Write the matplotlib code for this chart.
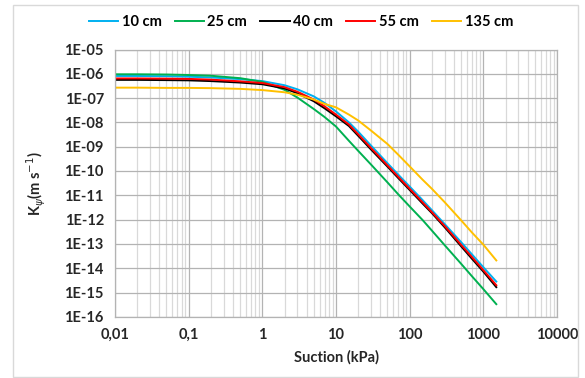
import matplotlib
matplotlib.use("Agg")
import matplotlib.pyplot as plt
import numpy as np
from matplotlib.patches import Rectangle

# suction (kPa), shared by all depths
suction = [0.01, 0.02, 0.05, 0.1, 0.2, 0.5, 1, 2, 3, 5, 7, 10, 15, 20, 30,
           50, 70, 100, 150, 200, 300, 500, 700, 1000, 1500]

# log10 of K (m/s)
logk_10 = [-6.09, -6.09, -6.10, -6.12, -6.15, -6.22, -6.30, -6.47, -6.64, -6.93,
           -7.20, -7.55, -8.00, -8.38, -8.96, -9.68, -10.15, -10.64, -11.20,
           -11.61, -12.19, -12.93, -13.43, -13.96, -14.55]
logk_25 = [-6.02, -6.02, -6.03, -6.05, -6.08, -6.18, -6.33, -6.66, -6.98, -7.45,
           -7.78, -8.17, -8.76, -9.17, -9.74, -10.47, -10.96, -11.46, -12.02,
           -12.45, -13.06, -13.82, -14.33, -14.86, -15.48]
logk_40 = [-6.25, -6.25, -6.26, -6.27, -6.30, -6.36, -6.43, -6.60, -6.80, -7.13,
           -7.42, -7.75, -8.15, -8.55, -9.12, -9.82, -10.29, -10.78, -11.34,
           -11.73, -12.32, -13.10, -13.61, -14.14, -14.78]
logk_55 = [-6.19, -6.19, -6.20, -6.21, -6.24, -6.31, -6.38, -6.55, -6.74, -7.06,
           -7.34, -7.68, -8.09, -8.49, -9.06, -9.77, -10.24, -10.73, -11.29,
           -11.69, -12.27, -13.04, -13.54, -14.08, -14.70]
logk_135 = [-6.57, -6.57, -6.58, -6.58, -6.59, -6.62, -6.67, -6.76, -6.86, -7.06,
            -7.24, -7.38, -7.68, -7.92, -8.34, -8.89, -9.33, -9.81, -10.36,
            -10.73, -11.29, -12.03, -12.53, -13.03, -13.68]

series = [("10 cm", logk_10, "#00B0F0"),
          ("25 cm", logk_25, "#00B050"),
          ("40 cm", logk_40, "#000000"),
          ("55 cm", logk_55, "#FF0000"),
          ("135 cm", logk_135, "#FFC000")]

x_ticks = [0.01, 0.1, 1, 10, 100, 1000, 10000]
x_labels = ["0,01", "0,1", "1", "10", "100", "1000", "10000"]
y_exps = list(range(-16, -4))
y_labels = ["1E-%02d" % (-e) for e in y_exps]

plt.rcParams['font.family'] = ['Lato', 'DejaVu Sans']
fs = 10.5

fig = plt.figure(figsize=(5.85, 3.78), dpi=100)
ax = fig.add_axes([115 / 585, 1 - 316.8 / 378, (557 - 115) / 585, (316.8 - 49.5) / 378])

# outer chart border
fig.patches.append(Rectangle((13 / 585, 1 / 378), 565 / 585, 372 / 378,
                             transform=fig.transFigure, fill=False,
                             edgecolor="#d9d9d9", linewidth=1))

for label, logk, color in series:
    ax.plot(suction, 10 ** np.array(logk), color=color, linewidth=1.4, label=label)

ax.set_xscale("log")
ax.set_yscale("log")
ax.set_xlim(0.01, 10000)
ax.set_ylim(1e-16, 1e-5)

ax.set_xticks(x_ticks)
ax.set_xticklabels(x_labels, fontsize=fs, fontweight="bold", color="#262626")
ax.set_yticks([10.0 ** e for e in y_exps])
ax.set_yticklabels(y_labels, fontsize=fs, fontweight="bold", color="#262626")
ax.yaxis.set_minor_locator(matplotlib.ticker.NullLocator())
ax.xaxis.set_minor_locator(matplotlib.ticker.LogLocator(base=10, subs=np.arange(2, 10)))
ax.xaxis.set_minor_formatter(matplotlib.ticker.NullFormatter())
ax.tick_params(which="both", length=0, pad=8)

ax.grid(True, which="major", color="#b3b3b3", linewidth=0.9)
ax.grid(True, which="minor", axis="x", color="#d9d9d9", linewidth=0.9)
ax.set_axisbelow(True)
for s in ax.spines.values():
    s.set_color("#b3b3b3")
    s.set_linewidth(0.9)

ax.set_xlabel("Suction (kPa)", fontsize=fs, fontweight="bold", labelpad=6, color="#262626")
ax.set_ylabel(r"K$_\psi$(m s$^{-1}$)", fontsize=fs, fontweight="bold", labelpad=12, color="#262626")

ax.legend(loc="center", bbox_to_anchor=(301 / 585, 1 - 22 / 378),
          bbox_transform=fig.transFigure, ncol=5, frameon=False,
          handlelength=2.0, handletextpad=0.25, columnspacing=0.9,
          prop={"weight": "bold", "size": fs})

fig.savefig("out.png", dpi=100)
